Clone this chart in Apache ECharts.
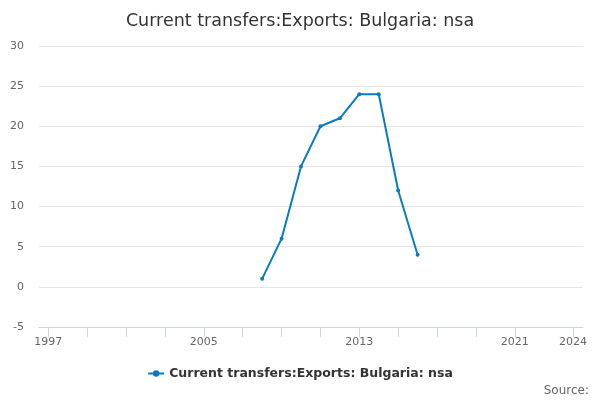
<!DOCTYPE html>
<html>
<head>
<meta charset="utf-8">
<script src="https://cdn.jsdelivr.net/npm/echarts@6/dist/echarts.min.js"></script>
<style>html,body{margin:0;padding:0;background:#fff}#c{width:600px;height:400px}</style>
</head>
<body>
<div id="c"></div>
<script>
const years = [2008, 2009, 2010, 2011, 2012, 2013, 2014, 2015, 2016];
const values = [1, 6, 15, 20, 21, 24, 24, 12, 4];
const xTicks = [1997, 1999, 2001, 2003, 2005, 2007, 2009, 2011, 2013, 2015, 2017, 2019, 2021, 2024];
const xLabels = [1997, 2005, 2013, 2021, 2024];
const yTicks = [-5, 0, 5, 10, 15, 20, 25, 30];
const seriesName = 'Current transfers:Exports: Bulgaria: nsa';

const chart = echarts.init(document.getElementById('c'), null, {renderer: 'canvas'});
chart.setOption({
  animation: false,
  textStyle: {fontFamily: 'DejaVu Sans'},
  title: {
    text: 'Current transfers:Exports: Bulgaria: nsa',
    left: 'center', top: 7,
    textStyle: {fontFamily: 'DejaVu Sans', fontSize: 17.5, fontWeight: 'normal', color: '#333333'}
  },
  legend: {
    bottom: 15, left: 'center',
    itemWidth: 16, itemHeight: 8,
    textStyle: {fontFamily: 'DejaVu Sans', fontSize: 12.5, fontWeight: 'bold', color: '#333333'},
    data: [seriesName]
  },
  graphic: [{
    type: 'text', right: 11, bottom: 3,
    style: {text: 'Source:', fontFamily: 'DejaVu Sans', fontSize: 12, fill: '#666666'}
  }],
  grid: {left: 39, right: 17, top: 46, bottom: 73, containLabel: false},
  xAxis: {
    type: 'value',
    min: 1996.52, max: 2024.51,
    splitLine: {show: false},
    axisLine: {show: true, onZero: false, lineStyle: {color: '#ccd6eb'}},
    axisTick: {show: true, length: 10, lineStyle: {color: '#ccd6eb'}, customValues: xTicks},
    axisLabel: {customValues: xLabels, formatter: v => String(v), color: '#666666', fontSize: 11, margin: 10, fontFamily: 'DejaVu Sans'}
  },
  yAxis: {
    type: 'value',
    min: -5, max: 30, interval: 5,
    axisLine: {show: false},
    axisTick: {show: false},
    splitLine: {lineStyle: {color: '#e6e6e6'}},
    axisLabel: {color: '#666666', fontSize: 11, margin: 15, fontFamily: 'DejaVu Sans'}
  },
  series: [{
    name: seriesName,
    type: 'line',
    data: years.map((y, i) => [y, values[i]]),
    symbol: 'circle', symbolSize: 4,
    lineStyle: {color: '#0b7bc1', width: 2},
    itemStyle: {color: '#0b7bc1'}
  }]
});
</script>
</body>
</html>
